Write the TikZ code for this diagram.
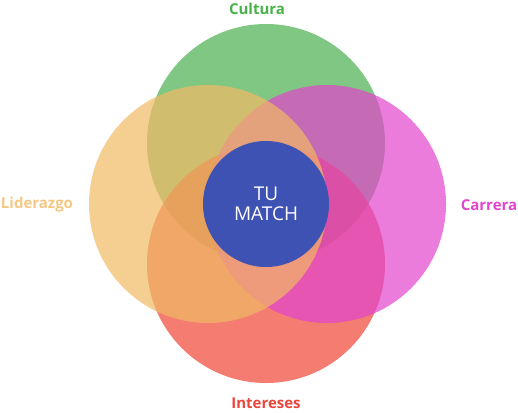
\documentclass[tikz,border=0pt]{standalone}
\usepackage{fontspec}
\setmainfont{Open Sans}
\definecolor{cgreen}{RGB}{76,175,80}
\definecolor{cred}{RGB}{239,68,51}
\definecolor{cpink}{RGB}{226,68,204}
\definecolor{corange}{RGB}{241,185,99}
\definecolor{cblue}{RGB}{62,82,180}
\definecolor{lgreen}{RGB}{72,178,72}
\definecolor{lorange}{RGB}{245,200,130}
\definecolor{lpink}{RGB}{225,70,205}
\definecolor{lred}{RGB}{235,70,60}
\tikzset{
  petal/.style={circle, minimum size=238pt, inner sep=0pt, fill opacity=0.7},
  lab/.style={font=\fontsize{15}{17}\selectfont\bfseries, inner sep=0pt},
}
\begin{document}
\begin{tikzpicture}[x=1pt,y=-1pt]
\useasboundingbox (0,0) rectangle (518,412);
\node[petal, fill=cgreen] (cultura) at (266,143) {};
\node[petal, fill=cred] (intereses) at (266,264) {};
\node[petal, fill=cpink] (carrera) at (327,204) {};
\node[petal, fill=corange] (liderazgo) at (208,204) {};
\node[circle, minimum size=126pt, inner sep=0pt, fill=cblue, text=white, align=center,
  font=\fontsize{19}{20}\selectfont] (match) at (266,204) {TU\\MATCH};
\node[lab, text=lgreen] (tcultura) at (257,8.5) {Cultura};
\node[lab, text=lorange] (tlider) at (37,205) {Liderazgo};
\node[lab, text=lpink] (tcarrera) at (489,205) {Carrera};
\node[lab, text=lred] (tinter) at (266,403.5) {Intereses};
\end{tikzpicture}
\end{document}
